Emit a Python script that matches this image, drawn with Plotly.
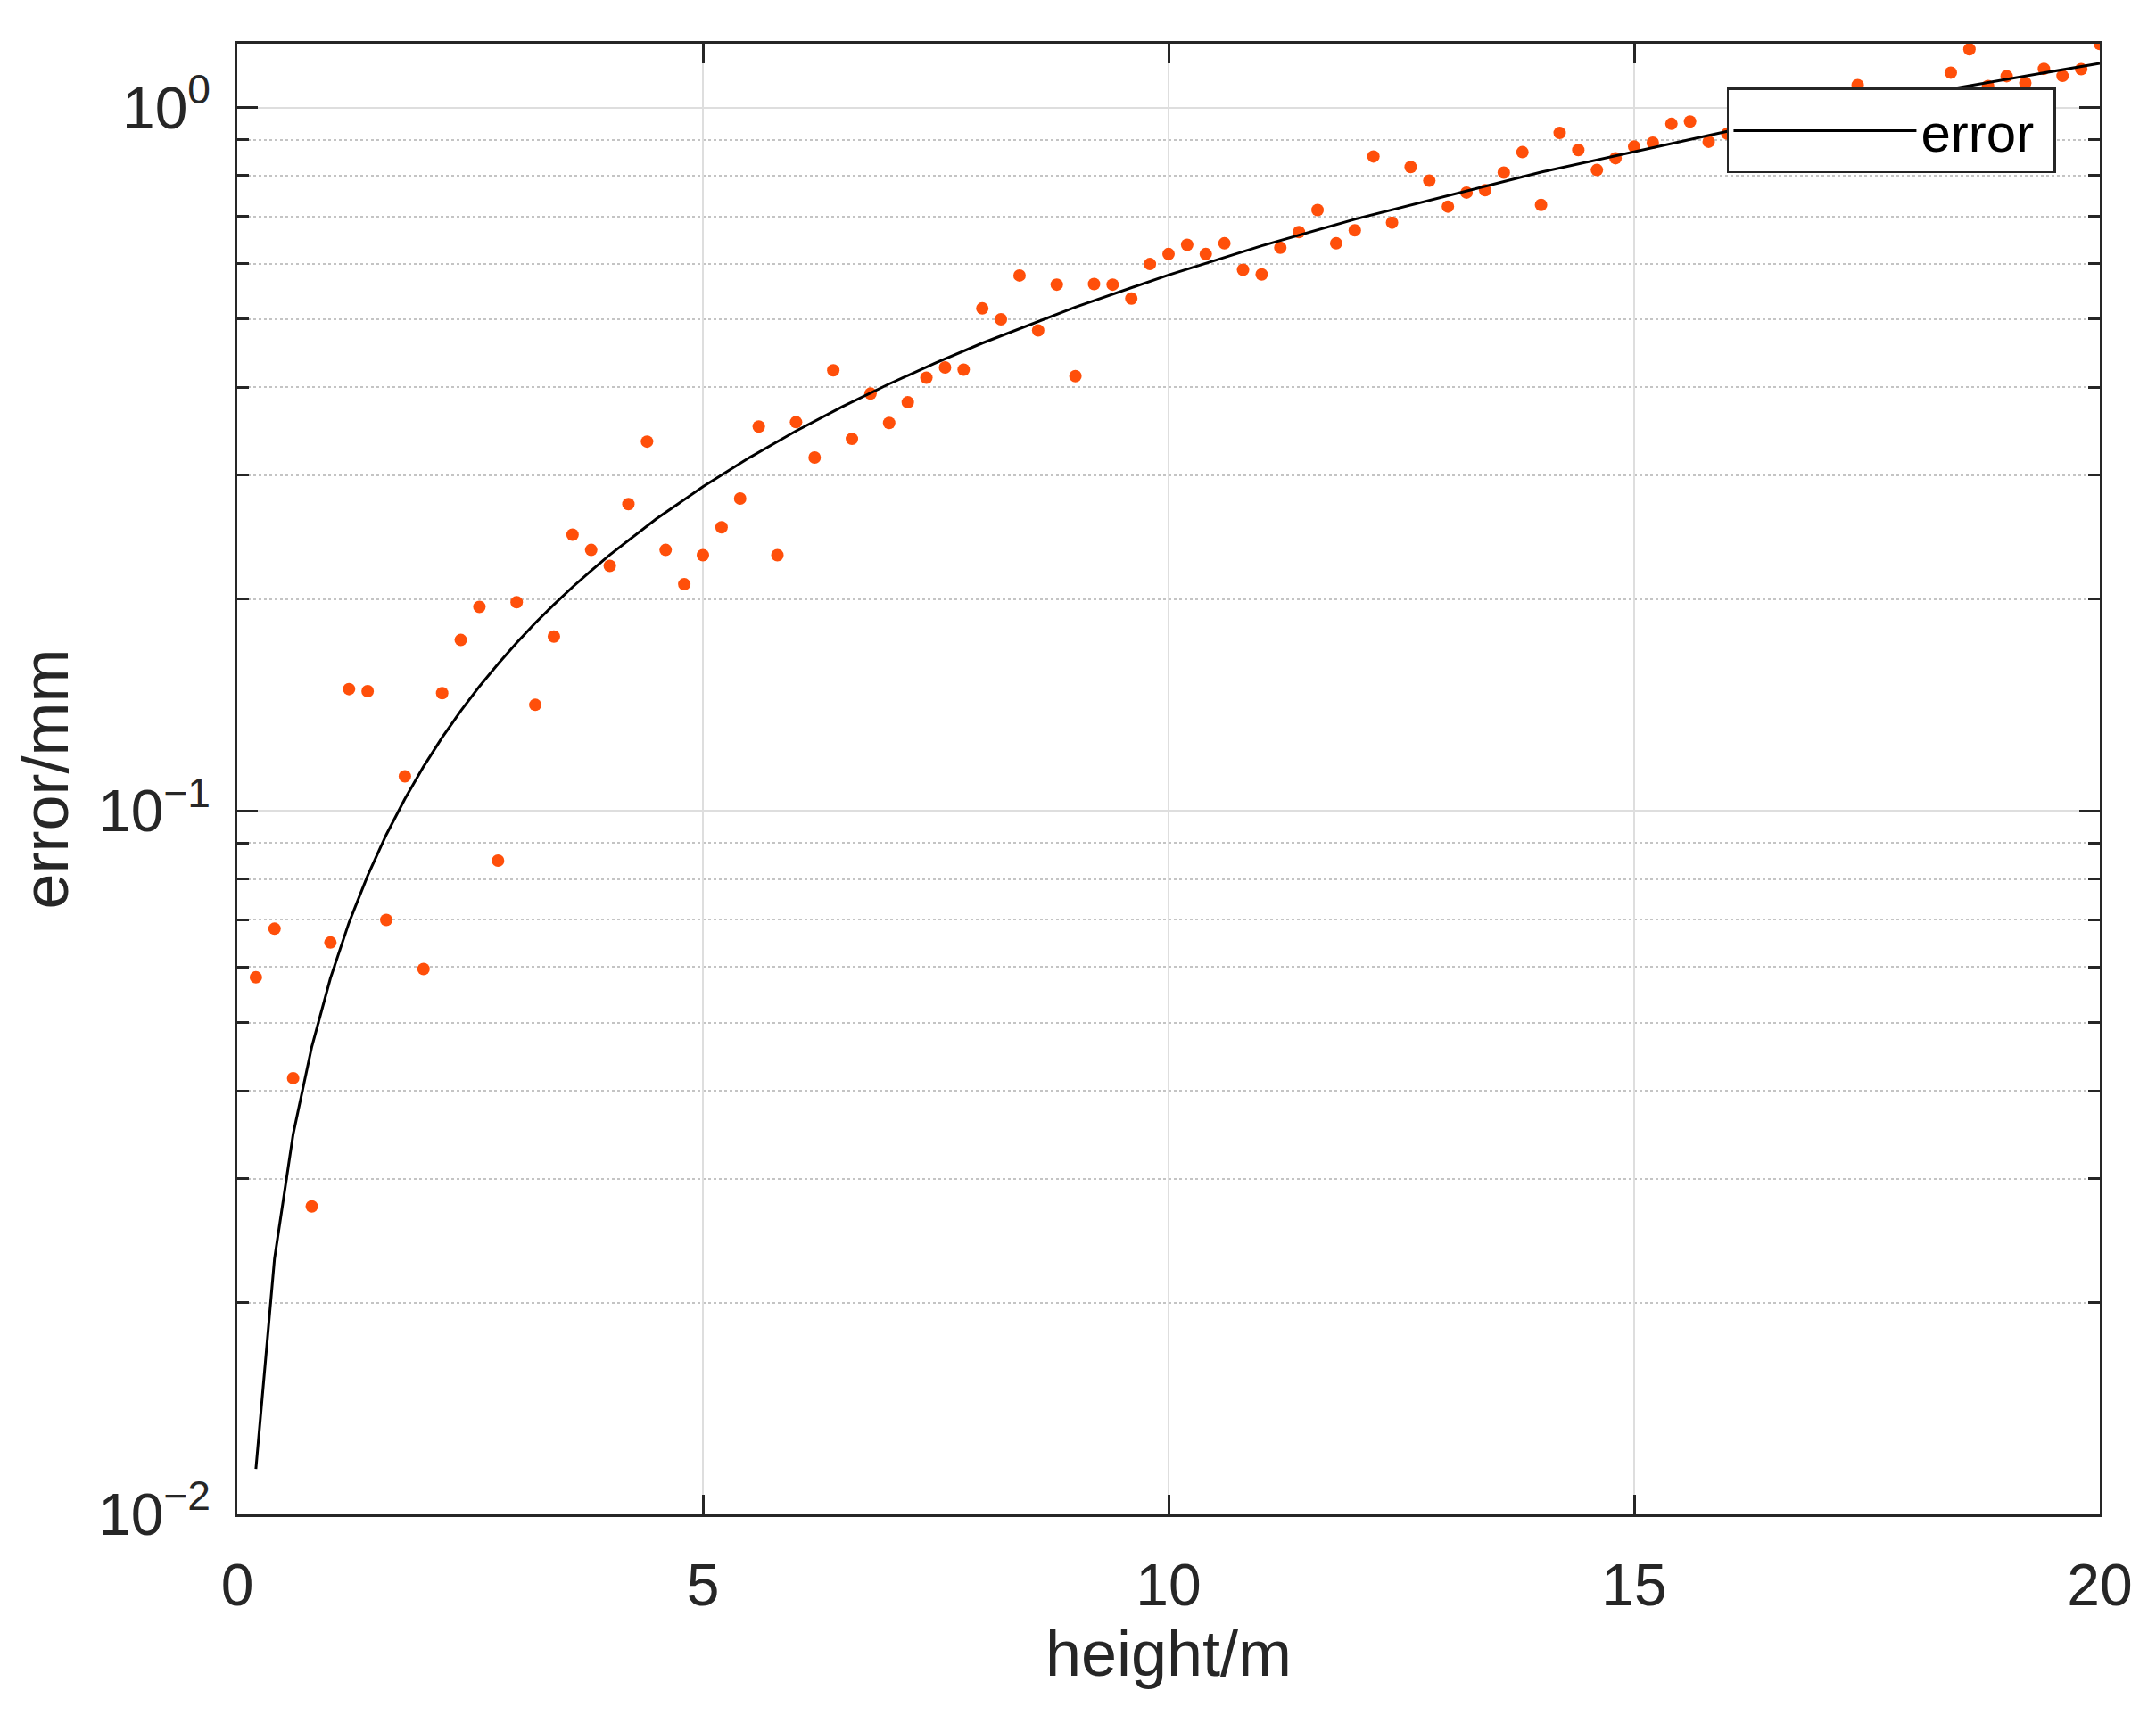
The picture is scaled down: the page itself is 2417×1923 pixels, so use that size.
import plotly.graph_objects as go

height = [0.2, 0.4, 0.6, 0.8, 1.0, 1.2, 1.4, 1.6, 1.8, 2.0,
          2.2, 2.4, 2.6, 2.8, 3.0, 3.2, 3.4, 3.6, 3.8, 4.0,
          4.2, 4.4, 4.6, 4.8, 5.0, 5.2, 5.4, 5.6, 5.8, 6.0,
          6.2, 6.4, 6.6, 6.8, 7.0, 7.2, 7.4, 7.6, 7.8, 8.0,
          8.2, 8.4, 8.6, 8.8, 9.0, 9.2, 9.4, 9.6, 9.8, 10.0,
          10.2, 10.4, 10.6, 10.8, 11.0, 11.2, 11.4, 11.6, 11.8, 12.0,
          12.2, 12.4, 12.6, 12.8, 13.0, 13.2, 13.4, 13.6, 13.8, 14.0,
          14.2, 14.4, 14.6, 14.8, 15.0, 15.2, 15.4, 15.6, 15.8, 16.0,
          16.2, 16.4, 16.6, 16.8, 17.0, 17.2, 17.4, 17.6, 17.8, 18.0,
          18.2, 18.4, 18.6, 18.8, 19.0, 19.2, 19.4, 19.6, 19.8, 20.0]
measured = [0.058, 0.068, 0.0417, 0.0274, 0.065, 0.149, 0.148, 0.070, 0.112, 0.0596,
            0.147, 0.175, 0.195, 0.085, 0.198, 0.1415, 0.177, 0.247, 0.235, 0.223,
            0.273, 0.335, 0.235, 0.210, 0.231, 0.253, 0.278, 0.352, 0.231, 0.357,
            0.318, 0.423, 0.338, 0.392, 0.356, 0.381, 0.413, 0.427, 0.424, 0.518,
            0.500, 0.577, 0.482, 0.560, 0.415, 0.561, 0.560, 0.535, 0.599, 0.619,
            0.638, 0.619, 0.641, 0.588, 0.579, 0.632, 0.665, 0.715, 0.641, 0.669,
            0.852, 0.686, 0.823, 0.787, 0.723, 0.757, 0.763, 0.808, 0.864, 0.727,
            0.920, 0.870, 0.815, 0.847, 0.880, 0.891, 0.948, 0.955, 0.894, 0.918,
            0.95, 0.93, 0.98, 0.96, 1.00, 0.97, 1.076, 1.02, 1.00, 1.04,
            1.03, 1.121, 1.210, 1.073, 1.108, 1.084, 1.135, 1.109, 1.134, 1.231]

# fitted error curve
fit_height = [0.2, 0.4, 0.6, 0.8, 1.0, 1.2, 1.4, 1.6, 1.8, 2.0,
              2.2, 2.4, 2.6, 2.8, 3.0, 3.2, 3.4, 3.6, 3.8, 4.0,
              4.5, 5.0, 5.5, 6.0, 6.5, 7.0, 7.5, 8.0,
              9.0, 10.0, 11.0, 12.0, 14.0, 16.0, 18.0, 20.0]
fit_error = [0.0116, 0.0231, 0.0347, 0.0462, 0.0578, 0.0694, 0.0809, 0.0925, 0.104, 0.1156,
             0.1272, 0.1387, 0.1503, 0.1618, 0.1734, 0.185, 0.1965, 0.2081, 0.2196, 0.2312,
             0.2601, 0.289, 0.3179, 0.3468, 0.3757, 0.4046, 0.4335, 0.4624,
             0.5202, 0.578, 0.6358, 0.6936, 0.8092, 0.9248, 1.0404, 1.156]

x_ticks = [0, 5, 10, 15, 20]
y_ticks = [0.01, 0.1, 1]
y_ticktext = ["10<sup>\u22122</sup>", "10<sup>\u22121</sup>", "10<sup>0</sup>"]
y_minor = [0.02, 0.03, 0.04, 0.05, 0.06, 0.07, 0.08, 0.09,
           0.2, 0.3, 0.4, 0.5, 0.6, 0.7, 0.8, 0.9]

ink = "#262626"

fig = go.Figure()
fig.add_trace(go.Scatter(x=height, y=measured, mode="markers",
                         marker=dict(color="#ff4f0a", size=14),
                         showlegend=False))
fig.add_trace(go.Scatter(x=fit_height, y=fit_error, mode="lines", name="error ",
                         line=dict(color="black", width=3)))

fig.update_layout(
    width=2417, height=1923,
    paper_bgcolor="white", plot_bgcolor="white",
    # page body adds an 8px offset
    margin=dict(l=258, r=71, t=41, b=233, autoexpand=False),
    font=dict(family="Arial, Liberation Sans", color=ink, size=66),
    legend=dict(x=0.9765, y=0.97, xanchor="right", yanchor="top",
                bgcolor="white", bordercolor=ink, borderwidth=2.5,
                font=dict(size=60, color="black"), itemwidth=205),
)

fig.update_xaxes(
    range=[0, 20], tickvals=x_ticks, ticks="inside", ticklen=22, tickwidth=2.5,
    tickcolor=ink, showline=True, linecolor=ink, linewidth=2.5, mirror="allticks",
    showgrid=True, gridcolor="#dedede", gridwidth=2, zeroline=False,
    ticklabelstandoff=20,
    title=dict(text="height/m", font=dict(size=72), standoff=4),
)
fig.update_yaxes(
    type="log", range=[-2, 0.0907], tickvals=y_ticks, ticktext=y_ticktext,
    ticks="inside", ticklen=23, tickwidth=2.5, tickcolor=ink,
    showline=True, linecolor=ink, linewidth=2.5, mirror="allticks",
    showgrid=True, gridcolor="#dedede", gridwidth=2, zeroline=False,
    minor=dict(tickvals=y_minor, ticks="inside", ticklen=13, tickwidth=2.5,
               tickcolor=ink, showgrid=True, gridcolor="#c4c4c4",
               griddash="dot", gridwidth=2),
    ticklabelstandoff=14,
    title=dict(text="error/mm", font=dict(size=72), standoff=10),
)

fig.write_html("out.html")
